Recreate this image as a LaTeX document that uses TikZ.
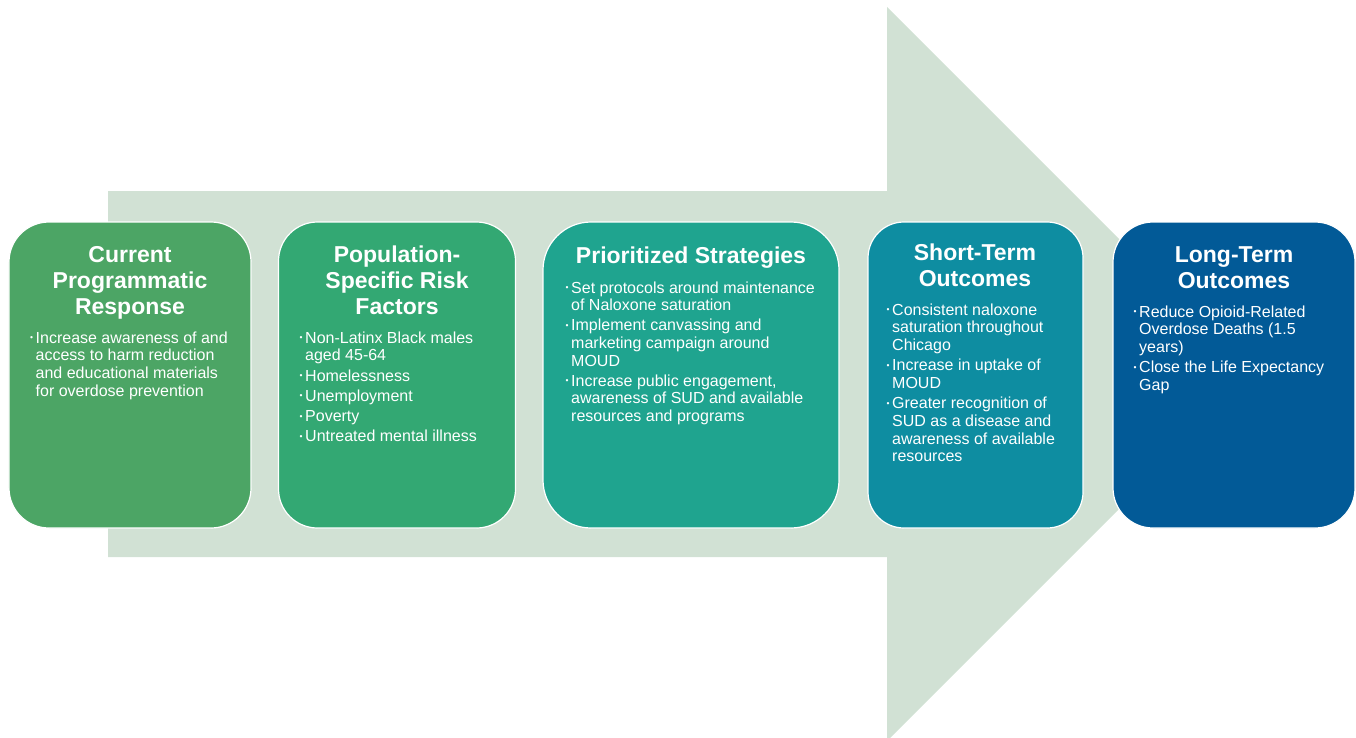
\documentclass[tikz,border=0pt]{standalone}
\usepackage{fontspec}
\setmainfont{Liberation Sans}
\definecolor{arrowc}{HTML}{D1E1D4}
\definecolor{cA}{HTML}{4CA565}
\definecolor{cB}{HTML}{33A873}
\definecolor{cC}{HTML}{1FA48F}
\definecolor{cD}{HTML}{0E8DA1}
\definecolor{cE}{HTML}{025A97}
\newcommand\bul{\makebox[5.5bp][l]{\raisebox{2.6bp}{\fontsize{8.5bp}{8.5bp}\selectfont •}}}
\tikzset{
  stage/.style={draw=white, line width=1.2bp, inner sep=0, minimum height=306bp},
  ttl/.style={text=white, font=\fontsize{23bp}{26bp}\selectfont\bfseries, inner sep=0, anchor=base},
  body/.style={text=white, font=\fontsize{16bp}{17.7bp}\selectfont, inner sep=0, anchor=base west},
}
\begin{document}
\begin{tikzpicture}[x=1bp,y=-1bp]
\useasboundingbox (0,0) rectangle (1356,737);
% background arrow
\fill[arrowc] (108,191) -- (887,191) -- (887,7) -- (1254,374) -- (887,741) -- (887,557) -- (108,557) -- cycle;
% boxes
\node[stage, fill=cA, minimum width=242bp, rounded corners=40bp] (b1) at (130,375) {};
\node[stage, fill=cB, minimum width=237bp, rounded corners=39bp] (b2) at (397,375) {};
\node[stage, fill=cC, minimum width=296bp, rounded corners=48bp] (b3) at (691,375) {};
\node[stage, fill=cD, minimum width=215bp, rounded corners=36bp] (b4) at (975.5,375) {};
\node[stage, fill=cE, minimum width=242bp, rounded corners=40bp] (b5) at (1234,375) {};
% titles
\node[ttl] (t1) at (130,262) {\begin{tabular}[t]{@{}c@{}}Current\\Programmatic\\Response\end{tabular}};
\node[ttl] (t2) at (397,262) {\begin{tabular}[t]{@{}c@{}}Population-\\Specific Risk\\Factors\end{tabular}};
\node[ttl] (t3) at (691,263) {\begin{tabular}[t]{@{}c@{}}Prioritized Strategies\end{tabular}};
\node[ttl] (t4) at (975,260) {\begin{tabular}[t]{@{}c@{}}Short-Term\\Outcomes\end{tabular}};
\node[ttl] (t5) at (1234,262) {\begin{tabular}[t]{@{}c@{}}Long-Term\\Outcomes\end{tabular}};
% bodies
\node[body] (d1) at (30,343) {\begin{tabular}[t]{@{}l@{}l@{}}
\bul&Increase awareness of and\\
&access to harm reduction\\
&and educational materials\\
&for overdose prevention
\end{tabular}};
\node[body] (d2) at (299.5,343) {\begin{tabular}[t]{@{}l@{}l@{}}
\bul&Non-Latinx Black males\\
&aged 45-64\\[2.6bp]
\bul&Homelessness\\[2.6bp]
\bul&Unemployment\\[2.6bp]
\bul&Poverty\\[2.6bp]
\bul&Untreated mental illness
\end{tabular}};
\node[body] (d3) at (565.5,293) {\begin{tabular}[t]{@{}l@{}l@{}}
\bul&Set protocols around maintenance\\
&of Naloxone saturation\\[2.3bp]
\bul&Implement canvassing and\\
&marketing campaign around\\
&MOUD\\[2.3bp]
\bul&Increase public engagement,\\
&awareness of SUD and available\\
&resources and programs
\end{tabular}};
\node[body] (d4) at (886.5,315) {\begin{tabular}[t]{@{}l@{}l@{}}
\bul&Consistent naloxone\\
&saturation throughout\\
&Chicago\\[2.8bp]
\bul&Increase in uptake of\\
&MOUD\\[2.3bp]
\bul&Greater recognition of\\
&SUD as a disease and\\
&awareness of available\\
&resources
\end{tabular}};
\node[body] (d5) at (1133.5,317) {\begin{tabular}[t]{@{}l@{}l@{}}
\bul&Reduce Opioid-Related\\
&Overdose Deaths (1.5\\
&years)\\[2.8bp]
\bul&Close the Life Expectancy\\
&Gap
\end{tabular}};
\end{tikzpicture}
\end{document}
